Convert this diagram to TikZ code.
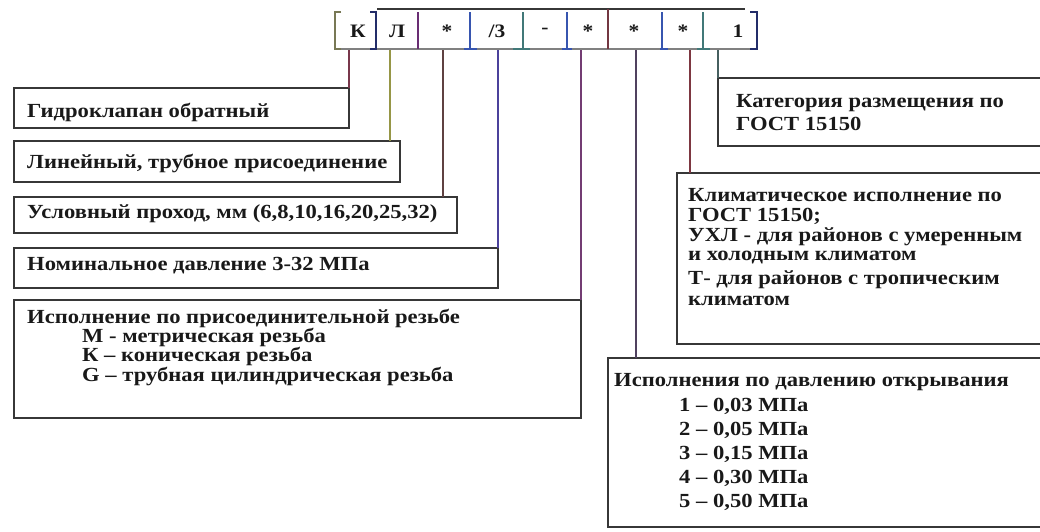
\documentclass[tikz,border=0pt]{standalone}
\usepackage{fontspec}
\newfontfamily\tfont{Liberation Serif}[FakeStretch=1.13]
\definecolor{boxc}{RGB}{55,55,55}
\definecolor{txtc}{RGB}{25,25,25}
\definecolor{cA}{RGB}{120,55,75}
\definecolor{cB}{RGB}{150,150,70}
\definecolor{cC}{RGB}{95,65,65}
\definecolor{cD}{RGB}{75,65,155}
\definecolor{cE}{RGB}{115,60,115}
\definecolor{cF}{RGB}{80,65,95}
\definecolor{cG}{RGB}{125,55,65}
\definecolor{cH}{RGB}{70,95,95}
\definecolor{olivec}{RGB}{120,120,85}
\definecolor{navyc}{RGB}{35,45,105}
\definecolor{purpc}{RGB}{105,45,115}
\definecolor{bluec}{RGB}{55,85,175}
\definecolor{tealc}{RGB}{65,120,120}
\definecolor{redc}{RGB}{115,55,65}
\begin{document}
\begin{tikzpicture}[x=1pt,y=-1pt,
  box/.style={draw=boxc, line width=1.6pt, outer sep=0pt, inner sep=0pt, anchor=north west},
  conn/.style={line width=1.5pt},
  sep/.style={line width=1.6pt},
  txt/.style={anchor=west, inner sep=0pt, text=txtc, font=\tfont\fontsize{20}{22}\selectfont\bfseries},
  code/.style={anchor=center, inner sep=0pt, text=txtc, font=\tfont\fontsize{19}{21}\selectfont\bfseries}]
\useasboundingbox (0,0) rectangle (1040,531);
\clip (0,0) rectangle (1040,531);
\fill[white] (0,0) rectangle (1040,531);

% ---- code strip ----
\draw[line width=1.2pt, boxc] (377,9) -- (745,9);
\draw[line width=1.2pt, gray] (335,49) -- (757,49);
\node[code] (k)  at (358,31) {К};
\node[code] (l)  at (397,31) {Л};
\node[code] (s1) at (447,31) {*};
\node[code] (p3) at (497,31) {/3};
\node[code] (ds) at (545,31) {-};
\node[code] (s2) at (588,31) {*};
\node[code] (s3) at (634,31) {*};
\node[code] (s4) at (683,31) {*};
\node[code] (on) at (738,31) {1};
\draw[sep, olivec] (341,12) -- (335,12) -- (335,49) -- (341,49);
\draw[sep, navyc] (370,12) -- (376,12) -- (376,49) -- (370,49);
\draw[sep, purpc] (418,12) -- (418,49);
\draw[sep, bluec] (470,12) -- (470,49) (464,49) -- (477,49);
\draw[sep, tealc] (523,12) -- (523,49) (513,49) -- (530,49);
\draw[sep, bluec] (567,12) -- (567,49) (562,49) -- (572,49);
\draw[sep, redc] (608,9) -- (608,49);
\draw[sep, bluec] (662,12) -- (662,49) (660,49) -- (668,49);
\draw[sep, tealc] (703,12) -- (703,49) (697,49) -- (710,49);
\draw[sep, navyc] (750,12) -- (757,12) -- (757,49) -- (750,49);

\coordinate (t1) at (349,50);
\coordinate (t2) at (390,50);
\coordinate (t3) at (443,50);
\coordinate (t4) at (498,50);
\coordinate (t5) at (581,50);
\coordinate (t6) at (636,50);
\coordinate (t7) at (690,50);
\coordinate (t8) at (718,50);

% ---- left boxes ----
\node[box, minimum width=335pt, minimum height=40pt] (b1) at (14,88) {};
\node[box, minimum width=386pt, minimum height=41pt] (b2) at (14,141) {};
\node[box, minimum width=443pt, minimum height=36pt] (b3) at (14,197) {};
\node[box, minimum width=484pt, minimum height=40pt] (b4) at (14,248) {};
\node[box, minimum width=567pt, minimum height=118pt] (b5) at (14,300) {};

% ---- right boxes ----
\node[box, minimum width=400pt, minimum height=68pt] (bK) at (718,78) {};
\node[box, minimum width=450pt, minimum height=171pt] (bC) at (677,173) {};
\node[box, minimum width=500pt, minimum height=169pt] (bP) at (608,358) {};

% ---- connectors ----
\draw[conn, cA] (t1) -- (b1.north east);
\draw[conn, cB] (t2) -- (t2 |- b2.north);
\draw[conn, cC] (t3) -- (t3 |- b3.north);
\draw[conn, cD] (t4) -- (b4.north east);
\draw[conn, cE] (t5) -- (b5.north east);
\draw[conn, cF] (t6) -- (t6 |- bP.north);
\draw[conn, cG] (t7) -- (t7 |- bC.north);
\draw[conn, cH] (t8) -- (bK.north west);

% ---- texts ----
\node[txt] (x1) at (27,112) {Гидроклапан обратный};
\node[txt] (x2) at (27,163) {Линейный, трубное присоединение};
\node[txt] (x3) at (27,214) {Условный проход, мм (6,8,10,16,20,25,32)};
\node[txt] (x4) at (27,266) {Номинальное давление 3-32 МПа};
\node[txt] (x5a) at (27,318) {Исполнение по присоединительной резьбе};
\node[txt] (x5b) at (82,337) {М - метрическая резьба};
\node[txt] (x5c) at (82,356) {К – коническая резьба};
\node[txt] (x5d) at (82,376) {G – трубная цилиндрическая резьба};

\node[txt] (xKa) at (736,103) {Категория размещения по};
\node[txt] (xKb) at (736,124) {ГОСТ 15150};

\node[txt] (xCa) at (688,195) {Климатическое исполнение по};
\node[txt] (xCb) at (688,216) {ГОСТ 15150;};
\node[txt] (xCc) at (688,237) {УХЛ - для районов с умеренным};
\node[txt] (xCd) at (688,258) {и холодным климатом};
\node[txt] (xCe) at (688,280) {Т- для районов с тропическим};
\node[txt] (xCf) at (688,301) {климатом};

\node[txt] (xPa) at (614,382) {Исполнения по давлению открывания};
\node[txt] (xPb) at (679,406) {1 – 0,03 МПа};
\node[txt] (xPc) at (679,430) {2 – 0,05 МПа};
\node[txt] (xPd) at (679,454) {3 – 0,15 МПа};
\node[txt] (xPe) at (679,478) {4 – 0,30 МПа};
\node[txt] (xPf) at (679,502) {5 – 0,50 МПа};
\end{tikzpicture}
\end{document}
